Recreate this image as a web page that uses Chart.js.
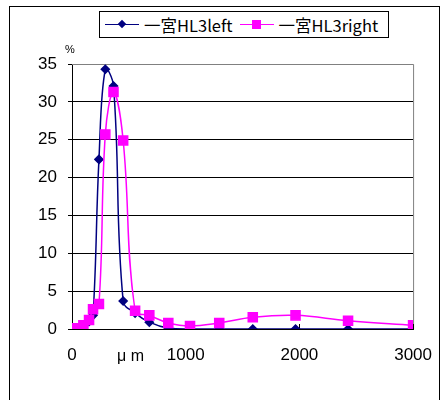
<!DOCTYPE html>
<html lang="ja">
<head>
    <meta charset="UTF-8">
    <title>一宮HL3 粒度分布</title>
    <script src="https://cdn.jsdelivr.net/npm/chart.js"></script>
    <style>
        body { margin: 0; background: #fff; }
        #wrap { position: relative; width: 448px; height: 400px; }
        #frame {
            position: absolute; left: 9px; top: 6px; width: 431px; height: 400px;
            border: 1px solid #000; box-sizing: border-box;
        }
        #legend {
            position: absolute; left: 99px; top: 11px; width: 290px; height: 27px;
            border: 1px solid #000; box-sizing: border-box; background: #fff;
            display: flex; align-items: center; padding-left: 5px; white-space: nowrap;
            font-family: "Noto Sans CJK JP", "Liberation Sans", sans-serif; font-size: 16.5px;
        }
        .item { display: flex; align-items: center; margin-right: 7px; }
        .sym { position: relative; flex: 0 0 34px; height: 10px; margin-right: 5px; }
        .sym .ln { position: absolute; left: 0; right: 0; top: 4px; height: 1.5px; }
        .sym .mk { position: absolute; }
        .dia { transform: rotate(45deg); }
        .unit { position: absolute; font-family: "Liberation Sans", sans-serif; color: #000; }
    </style>
</head>
<body>
<div id="wrap">
    <div id="frame"></div>
    <canvas id="psd" width="448" height="400" style="position:absolute;left:0;top:0;"></canvas>
    <div id="legend">
        <div class="item"><div class="sym"><div class="ln" style="background:#000080"></div><div class="mk dia" style="background:#000080;left:14px;width:6px;height:6px;top:1.5px"></div></div>一宮HL3left</div>
        <div class="item"><div class="sym"><div class="ln" style="background:#ff00ff"></div><div class="mk" style="background:#ff00ff;left:12px;width:9px;height:9px;top:0px"></div></div>一宮HL3right</div>
    </div>
    <div class="unit" style="left:65px;top:43px;font-size:11px;">%</div>
    <div class="unit" style="left:117px;top:347px;font-size:16px;">μ m</div>
</div>

<script>
    // grain size (μm) and percentage per size class
    const sizes = [45, 70, 100, 150, 185, 237, 293, 365, 450, 555, 680, 847, 1038, 1295, 1590, 1966, 2428, 3000];
    const leftPct = [0, 0.05, 0.3, 1.0, 1.8, 22.4, 34.3, 32.1, 3.7, 2.1, 0.9, 0.1, 0, 0, 0, 0, 0, 0];
    const rightPct = [0.1, 0.1, 0.5, 1.2, 2.6, 3.3, 25.7, 31.3, 24.9, 2.4, 1.8, 0.8, 0.4, 0.8, 1.55, 1.8, 1.1, 0.5];
    const seriesNames = ['一宮HL3left', '一宮HL3right'];
    const xTicks = [0, 1000, 2000, 3000];

    function toPoints(vals) {
        return sizes.map((s, i) => ({ x: s, y: vals[i] }));
    }

    // gray top/right edges of the plot box plus short inward ticks on the x axis
    const plotFrame = {
        id: 'plotFrame',
        beforeDatasetsDraw(chart) {
            const { ctx, chartArea: a, scales } = chart;
            ctx.save();
            ctx.strokeStyle = '#808080';
            ctx.lineWidth = 1;
            ctx.beginPath();
            ctx.moveTo(a.left, a.top + 0.5);
            ctx.lineTo(a.right + 0.5, a.top + 0.5);
            ctx.lineTo(a.right + 0.5, a.bottom);
            ctx.stroke();
            ctx.strokeStyle = '#000';
            ctx.beginPath();
            xTicks.forEach(v => {
                const px = Math.round(scales.x.getPixelForValue(v)) + 0.5;
                ctx.moveTo(px, a.bottom);
                ctx.lineTo(px, a.bottom - 5);
            });
            ctx.stroke();
            ctx.restore();
        }
    };

    new Chart(document.getElementById('psd'), {
        type: 'line',
        data: {
            datasets: [{
                label: seriesNames[0],
                data: toPoints(leftPct),
                borderColor: '#000080',
                backgroundColor: '#000080',
                borderWidth: 1.5,
                pointStyle: 'rectRot',
                pointRadius: 4,
                tension: 0.4,
                order: 1
            }, {
                label: seriesNames[1],
                data: toPoints(rightPct),
                borderColor: '#ff00ff',
                backgroundColor: '#ff00ff',
                borderWidth: 1.5,
                pointStyle: 'rect',
                pointRadius: 6.4,
                tension: 0.4,
                order: 0
            }]
        },
        options: {
            responsive: false,
            animation: false,
            layout: { padding: { top: 64, right: 30, left: 0, bottom: 0 } },
            plugins: { legend: { display: false }, tooltip: { enabled: false } },
            scales: {
                x: {
                    type: 'linear',
                    min: 0,
                    max: 3000,
                    afterFit(scale) { scale.height = 71; },
                    afterBuildTicks(scale) { scale.ticks = xTicks.map(v => ({ value: v })); },
                    grid: { display: false, drawTicks: false },
                    border: { color: '#000', width: 1 },
                    ticks: {
                        padding: 16,
                        maxRotation: 0,
                        color: '#000',
                        font: { family: 'Liberation Sans', size: 17 },
                        callback: v => String(v)
                    }
                },
                y: {
                    min: 0,
                    max: 35,
                    afterFit(scale) { scale.width = 72; },
                    grid: {
                        color: ctx => ctx.tick && ctx.tick.value === 35 ? '#808080' : '#000',
                        lineWidth: 1,
                        tickLength: 4,
                        tickColor: '#000'
                    },
                    border: { color: '#000', width: 1 },
                    ticks: {
                        stepSize: 5,
                        padding: 11,
                        color: '#000',
                        font: { family: 'Liberation Sans', size: 17 }
                    }
                }
            }
        },
        plugins: [plotFrame]
    });
</script>
</body>
</html>
